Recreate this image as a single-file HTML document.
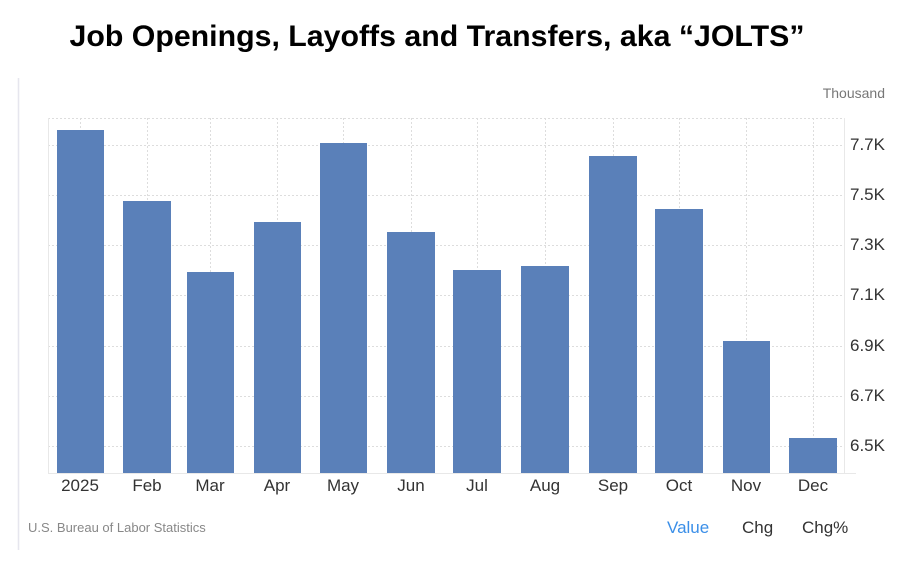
<!DOCTYPE html><html><head><style>
body{margin:0;background:#fff;width:922px;height:562px;overflow:hidden;font-family:"Liberation Sans",sans-serif}
</style></head><body>
<svg width="922" height="562" xmlns="http://www.w3.org/2000/svg" style="position:absolute;left:0;top:0">
<text x="437" y="46" text-anchor="middle" font-family="Liberation Sans" font-weight="bold" font-size="30" textLength="735" lengthAdjust="spacingAndGlyphs" fill="#000">Job Openings, Layoffs and Transfers, aka “JOLTS”</text>
<line x1="18.5" y1="78" x2="18.5" y2="550" stroke="#e6e6ee" stroke-width="1.5"/>
<text x="885" y="98" text-anchor="end" font-size="14" fill="#777">Thousand</text>
<g stroke="#ddd" stroke-dasharray="2,2" stroke-width="1">
<line x1="48" y1="118.5" x2="844" y2="118.5"/>
<line x1="48" y1="145.5" x2="844" y2="145.5"/>
<line x1="48" y1="195.5" x2="844" y2="195.5"/>
<line x1="48" y1="245.5" x2="844" y2="245.5"/>
<line x1="48" y1="295.5" x2="844" y2="295.5"/>
<line x1="48" y1="346.5" x2="844" y2="346.5"/>
<line x1="48" y1="396.5" x2="844" y2="396.5"/>
<line x1="48" y1="446.5" x2="844" y2="446.5"/>
<line x1="80.5" y1="118" x2="80.5" y2="473"/>
<line x1="147.5" y1="118" x2="147.5" y2="473"/>
<line x1="210.5" y1="118" x2="210.5" y2="473"/>
<line x1="277.5" y1="118" x2="277.5" y2="473"/>
<line x1="343.5" y1="118" x2="343.5" y2="473"/>
<line x1="411.5" y1="118" x2="411.5" y2="473"/>
<line x1="477.5" y1="118" x2="477.5" y2="473"/>
<line x1="545.5" y1="118" x2="545.5" y2="473"/>
<line x1="613.5" y1="118" x2="613.5" y2="473"/>
<line x1="679.5" y1="118" x2="679.5" y2="473"/>
<line x1="746.5" y1="118" x2="746.5" y2="473"/>
<line x1="813.5" y1="118" x2="813.5" y2="473"/>
</g>
<line x1="48.5" y1="118" x2="48.5" y2="473" stroke="#e8e8e8"/>
<line x1="844.5" y1="118" x2="844.5" y2="473" stroke="#e8e8e8"/>
<line x1="48" y1="473.5" x2="856" y2="473.5" stroke="#e8e8e8"/>
<g fill="#5a80b9">
<rect x="57" y="130" width="47" height="343"/>
<rect x="123" y="201" width="48" height="272"/>
<rect x="187" y="272" width="47" height="201"/>
<rect x="254" y="222" width="47" height="251"/>
<rect x="320" y="143" width="47" height="330"/>
<rect x="387" y="232" width="48" height="241"/>
<rect x="453" y="270" width="48" height="203"/>
<rect x="521" y="266" width="48" height="207"/>
<rect x="589" y="156" width="48" height="317"/>
<rect x="655" y="209" width="48" height="264"/>
<rect x="723" y="341" width="47" height="132"/>
<rect x="789" y="438" width="48" height="35"/>
</g>
<g font-size="17" fill="#333">
<text x="850" y="150">7.7K</text><text x="850" y="200">7.5K</text><text x="850" y="250">7.3K</text>
<text x="850" y="300">7.1K</text><text x="850" y="351">6.9K</text><text x="850" y="401">6.7K</text><text x="850" y="451">6.5K</text>
</g>
<g font-size="17" fill="#333" text-anchor="middle">
<text x="80" y="491">2025</text><text x="147" y="491">Feb</text><text x="210" y="491">Mar</text><text x="277" y="491">Apr</text>
<text x="343" y="491">May</text><text x="411" y="491">Jun</text><text x="477" y="491">Jul</text><text x="545" y="491">Aug</text>
<text x="613" y="491">Sep</text><text x="679" y="491">Oct</text><text x="746" y="491">Nov</text><text x="813" y="491">Dec</text>
</g>
<text x="28" y="532" font-size="13" fill="#888">U.S. Bureau of Labor Statistics</text>
<text x="667" y="533" font-size="17" fill="#3b8fe8">Value</text>
<text x="742" y="533" font-size="17" fill="#333">Chg</text>
<text x="802" y="533" font-size="17" fill="#333">Chg%</text>
</svg>
</body></html>
